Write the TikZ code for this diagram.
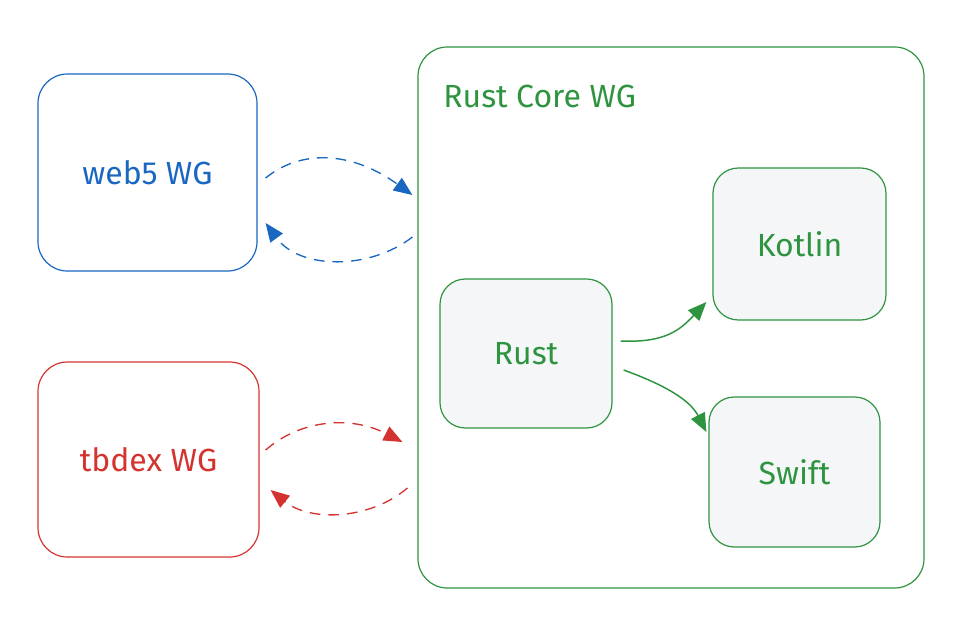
\documentclass[tikz,border=0pt]{standalone}
\usepackage{fontspec}
\setmainfont{Fira Sans}
\usetikzlibrary{arrows.meta,calc}
\definecolor{cblue}{RGB}{25,103,192}
\definecolor{cred}{RGB}{212,52,48}
\definecolor{cgreen}{RGB}{47,148,64}
\definecolor{cfill}{RGB}{245,246,248}
\tikzset{
  px/.style={x=0.75pt,y=-0.75pt},
  group/.style={draw, line width=0.9pt, rounded corners=22pt, font=\fontsize{24}{28}\selectfont},
  inner/.style={draw=cgreen, fill=cfill, line width=0.9pt, rounded corners=19pt, text=cgreen, font=\fontsize{24}{28}\selectfont},
  dashlink/.style={line width=1pt, dash pattern=on 8pt off 6pt, -{Triangle[length=14pt,width=11.5pt]}},
  solidlink/.style={draw=cgreen, line width=1.1pt, -{Triangle[length=14pt,width=11.5pt]}},
}
\begin{document}
\begin{tikzpicture}[px]
\useasboundingbox (0,0) rectangle (966,632);
\node[group, draw=cblue, text=cblue, minimum width=164.25pt, minimum height=147.75pt] (web5) at (147.5,172.5) {web5 WG};
\node[group, draw=cred, text=cred, minimum width=165.75pt, minimum height=146.25pt] (tbdex) at (148.5,459.5) {tbdex WG};
\node[group, draw=cgreen, minimum width=379.5pt, minimum height=405.75pt] (core) at (671,317.5) {};
\node[anchor=west, text=cgreen, inner sep=0pt, font=\fontsize{24}{28}\selectfont] (title) at (443,96) {Rust Core WG};
\node[inner, minimum width=129pt, minimum height=111.75pt] (rust) at (526,353.5) {Rust};
\node[inner, minimum width=129.75pt, minimum height=114pt] (kotlin) at (799.5,244) {Kotlin};
\node[inner, minimum width=128.25pt, minimum height=112.5pt] (swift) at (794.5,472) {Swift};
% blue links
\coordinate (b1) at ($(web5.east)+(8,5.5)$);
\coordinate (b2) at ($(core.west)+(-5,-122.5)$);
\coordinate (b3) at ($(core.west)+(-5,-80.5)$);
\coordinate (b4) at ($(web5.east)+(8,50.5)$);
\draw[dashlink, draw=cblue] (b1) .. controls (300,150) and (350,150) .. (b2);
\draw[dashlink, draw=cblue] (b3) .. controls (370,270) and (300,270) .. (b4);
% red links
\coordinate (r1) at ($(tbdex.east)+(6,-9.5)$);
\coordinate (r2) at ($(core.west)+(-15,124.5)$);
\coordinate (r3) at ($(core.west)+(-10,170.5)$);
\coordinate (r4) at ($(tbdex.east)+(11,30.5)$);
\draw[dashlink, draw=cred] (r1) .. controls (300,420) and (350,415) .. (r2);
\draw[dashlink, draw=cred] (r3) .. controls (370,520) and (310,522) .. (r4);
% green links
\coordinate (g1) at ($(rust.east)+(8,-12.5)$);
\coordinate (g2) at ($(kotlin.west)+(-6,58)$);
\coordinate (g3) at ($(rust.east)+(11,16.5)$);
\coordinate (g4) at ($(swift.west)+(-2,-40)$);
\draw[solidlink] (g1) .. controls (665,343) and (680,330) .. (g2);
\draw[solidlink] (g3) .. controls (665,385) and (690,400) .. (g4);
\end{tikzpicture}
\end{document}
